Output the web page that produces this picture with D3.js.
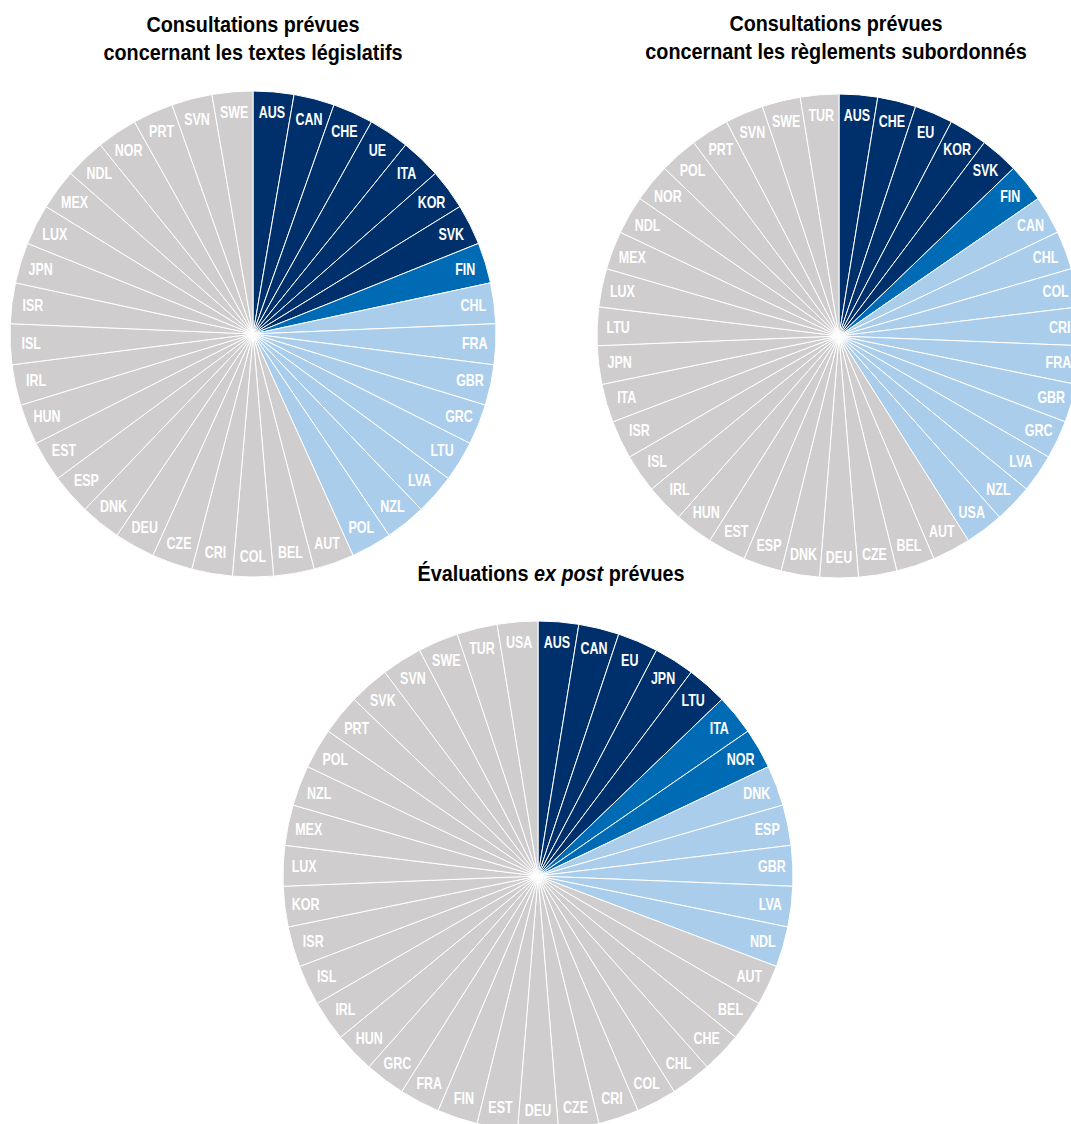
<!DOCTYPE html>
<html lang="fr">
<head>
<meta charset="utf-8">
<script src="https://cdn.jsdelivr.net/npm/d3@7"></script>
<style>
  html, body { margin: 0; padding: 0; background: #ffffff; }
  svg { display: block; }
  .title { font-family: "Liberation Sans", Arial, sans-serif; font-weight: bold; font-size: 22px; fill: #000; }
  .slice-label { font-family: "Liberation Sans", Arial, sans-serif; font-weight: bold; font-size: 16px; fill: #ffffff; }
</style>
</head>
<body>
<svg id="chart" width="1071" height="1124"></svg>
<script>
// Country groups, in clockwise order from 12 o'clock, for each pie.
// Every country counts as one equal slice.

// Consultations prévues concernant les textes législatifs
const lawAlways    = ["AUS", "CAN", "CHE", "UE", "ITA", "KOR", "SVK"];
const lawFrequent  = ["FIN"];
const lawSometimes = ["CHL", "FRA", "GBR", "GRC", "LTU", "LVA", "NZL", "POL"];
const lawNever     = ["AUT", "BEL", "COL", "CRI", "CZE", "DEU", "DNK", "ESP", "EST", "HUN",
                      "IRL", "ISL", "ISR", "JPN", "LUX", "MEX", "NDL", "NOR", "PRT", "SVN", "SWE"];

// Consultations prévues concernant les règlements subordonnés
const regAlways    = ["AUS", "CHE", "EU", "KOR", "SVK"];
const regFrequent  = ["FIN"];
const regSometimes = ["CAN", "CHL", "COL", "CRI", "FRA", "GBR", "GRC", "LVA", "NZL", "USA"];
const regNever     = ["AUT", "BEL", "CZE", "DEU", "DNK", "ESP", "EST", "HUN", "IRL", "ISL", "ISR", "ITA",
                      "JPN", "LTU", "LUX", "MEX", "NDL", "NOR", "POL", "PRT", "SVN", "SWE", "TUR"];

// Évaluations ex post prévues
const evalAlways    = ["AUS", "CAN", "EU", "JPN", "LTU"];
const evalFrequent  = ["ITA", "NOR"];
const evalSometimes = ["DNK", "ESP", "GBR", "LVA", "NDL"];
const evalNever     = ["AUT", "BEL", "CHE", "CHL", "COL", "CRI", "CZE", "DEU", "EST", "FIN", "FRA",
                       "GRC", "HUN", "IRL", "ISL", "ISR", "KOR", "LUX", "MEX", "NZL", "POL", "PRT",
                       "SVK", "SVN", "SWE", "TUR", "USA"];

const groupNames  = ["always", "frequent", "sometimes", "never"];
const groupColors = ["#00306c", "#006bb5", "#abcdec", "#cfcdce"];

const color = d3.scaleOrdinal().domain(groupNames).range(groupColors);

// Condensed look for the sans-serif face
const TITLE_SQUEEZE = 0.9;
const LABEL_SQUEEZE = 0.78;

function buildSlices(groups) {
  const rows = [];
  groups.forEach((list, i) => {
    list.forEach(code => rows.push({ code, group: groupNames[i], value: 1 }));
  });
  return rows;
}

const pies = [
  {
    slices: buildSlices([lawAlways, lawFrequent, lawSometimes, lawNever]),
    cx: 253, cy: 334, r: 243,
    title: [["Consultations prévues"], ["concernant les textes législatifs"]],
    titleX: 253, titleY: 32
  },
  {
    slices: buildSlices([regAlways, regFrequent, regSometimes, regNever]),
    cx: 839, cy: 336, r: 242,
    title: [["Consultations prévues"], ["concernant les règlements subordonnés"]],
    titleX: 836, titleY: 31
  },
  {
    slices: buildSlices([evalAlways, evalFrequent, evalSometimes, evalNever]),
    cx: 538, cy: 876, r: 255,
    title: [["Évaluations ", "ex post", " prévues"]],
    titleX: 551, titleY: 581
  }
];

const svg = d3.select("#chart");
const pie = d3.pie().sort(null).value(d => d.value);

pies.forEach(p => {
  const g = svg.append("g").attr("transform", `translate(${p.cx},${p.cy})`);
  const arc = d3.arc().innerRadius(0).outerRadius(p.r);
  const labelArc = d3.arc().innerRadius(p.r - 21).outerRadius(p.r - 21);
  const arcs = pie(p.slices);

  g.selectAll("path.slice")
    .data(arcs)
    .join("path")
    .attr("class", "slice")
    .attr("d", arc)
    .attr("fill", d => color(d.data.group))
    .attr("stroke", "#ffffff")
    .attr("stroke-width", 1)
    .attr("stroke-linejoin", "round");

  g.selectAll("text.slice-label")
    .data(arcs)
    .join("text")
    .attr("class", "slice-label")
    .attr("transform", d => {
      const [x, y] = labelArc.centroid(d);
      return `translate(${x},${y}) scale(${LABEL_SQUEEZE},1)`;
    })
    .attr("text-anchor", "middle")
    .attr("dominant-baseline", "central")
    .text(d => d.data.code);

  // Title, one <text> per line; the middle part of a three-part line is italic
  p.title.forEach((line, li) => {
    const t = svg.append("text")
      .attr("class", "title")
      .attr("transform", `translate(${p.titleX},${p.titleY + li * 28}) scale(${TITLE_SQUEEZE},1)`)
      .attr("text-anchor", "middle");
    line.forEach((part, pi) => {
      t.append("tspan")
        .attr("font-style", line.length === 3 && pi === 1 ? "italic" : "normal")
        .text(part);
    });
  });
});
</script>
</body>
</html>
